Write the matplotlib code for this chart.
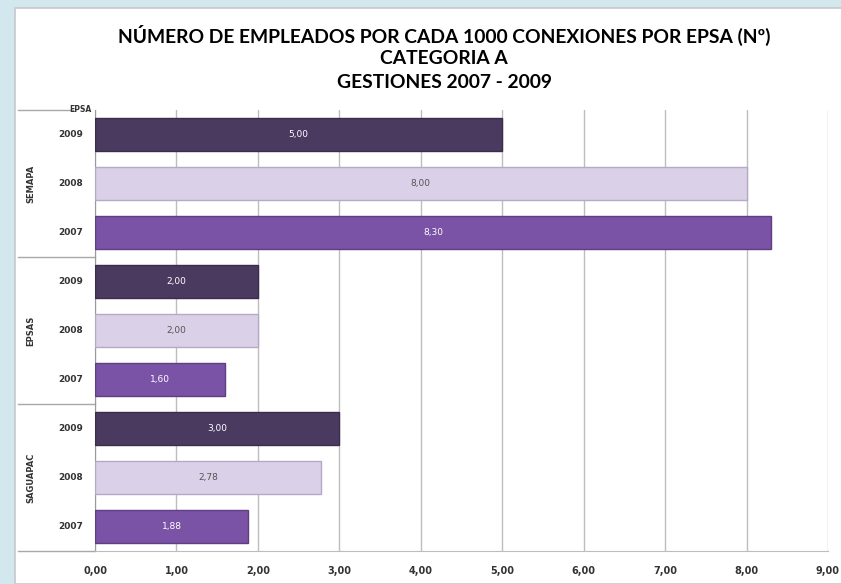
import matplotlib.pyplot as plt
import matplotlib as mpl
from matplotlib.patches import Rectangle
from matplotlib.lines import Line2D
import numpy as np

mpl.rcParams.update({
	'font.family': ['DejaVu Sans'],
	'font.size': 7})

# data
epsas = ['SEMAPA', 'EPSAS', 'SAGUAPAC']
years = ['2009', '2008', '2007']
values = {'SEMAPA':   [5.00, 8.00, 8.30],
          'EPSAS':    [2.00, 2.00, 1.60],
          'SAGUAPAC': [3.00, 2.78, 1.88]}
bar_colors = ['#4b3a5f', '#dad0e7', '#7b53a6']
edge_colors = ['#3a2c4a', '#b5a9c6', '#5e3f82']
text_colors = ['white', '#555555', 'white']
xticks = np.arange(0, 10)

fig = plt.figure(figsize=(8.41, 5.84), dpi=100)
fig.patch.set_facecolor('#d3e7ee')
# white chart frame
fig.add_artist(Rectangle((15/841, 0), 1, 1-8/584, transform=fig.transFigure,
                         facecolor='white', edgecolor='#c8c8c8', lw=1.2, zorder=0))

ax = fig.add_axes([95/841, 1-551/584, (828-95)/841, (551-110)/584])
ax.set_facecolor('none')

pos = 0
for g in epsas:
	for i, y in enumerate(years):
		v = values[g][i]
		ax.barh(pos, v, height=0.69, color=bar_colors[i], edgecolor=edge_colors[i],
		        linewidth=1.0, zorder=3)
		ax.text(v/2., pos, ('%.2f' % v).replace('.', ','), ha='center', va='center',
		        color=text_colors[i], fontsize=6.5, zorder=4)
		pos += 1

ax.set_ylim(pos-0.5, -0.5)
ax.set_xlim(0, 9)
ax.set_xticks(xticks)
ax.set_xticklabels([('%.2f' % t).replace('.', ',') for t in xticks], fontsize=7,
                   fontweight='bold', color='#333333')
ax.tick_params(axis='x', length=0, pad=11)
ax.set_yticks([])
ax.grid(axis='x', color='#bdbdbd', linewidth=1.0, zorder=0)
for s in ['top', 'right']:
	ax.spines[s].set_visible(False)
ax.spines['left'].set_color('#9a9a9a')
ax.spines['bottom'].set_color('#bdbdbd')

# category labels (years and EPSA groups)
trans = ax.get_yaxis_transform()
pos = 0
for g in epsas:
	for y in years:
		ax.text(-0.016, pos, y, transform=trans, ha='right', va='center',
		        fontsize=6.5, fontweight='bold', color='#333333')
		pos += 1
	ax.text(-0.088, pos-2, g, transform=trans, ha='center', va='center',
	        rotation=90, fontsize=6, fontweight='bold', color='#333333')
	ax.add_line(Line2D([-0.105, 0], [pos-0.5, pos-0.5], transform=trans,
	                   color='#a8a8a8', lw=1, clip_on=False))
ax.add_line(Line2D([-0.105, -0.03], [-0.5, -0.5], transform=trans,
                   color='#a8a8a8', lw=1, clip_on=False))
ax.text(-0.02, -0.5, 'EPSA', transform=trans, ha='center', va='center',
        fontsize=5.5, fontweight='bold', color='#333333')

title_font = ['Lato', 'DejaVu Sans']
fig.text(0.528, 1-35/584, 'NÚMERO DE EMPLEADOS POR CADA 1000 CONEXIONES POR EPSA (Nº)',
         ha='center', va='center', fontsize=13.9, fontweight='bold', family=title_font)
fig.text(0.528, 1-59/584, 'CATEGORIA A', ha='center', va='center', fontsize=13.9,
         fontweight='bold', family=title_font)
fig.text(0.528, 1-83/584, 'GESTIONES 2007 - 2009', ha='center', va='center', fontsize=13.9,
         fontweight='bold', family=title_font)

plt.savefig('out.png', dpi=100, facecolor=fig.get_facecolor())
